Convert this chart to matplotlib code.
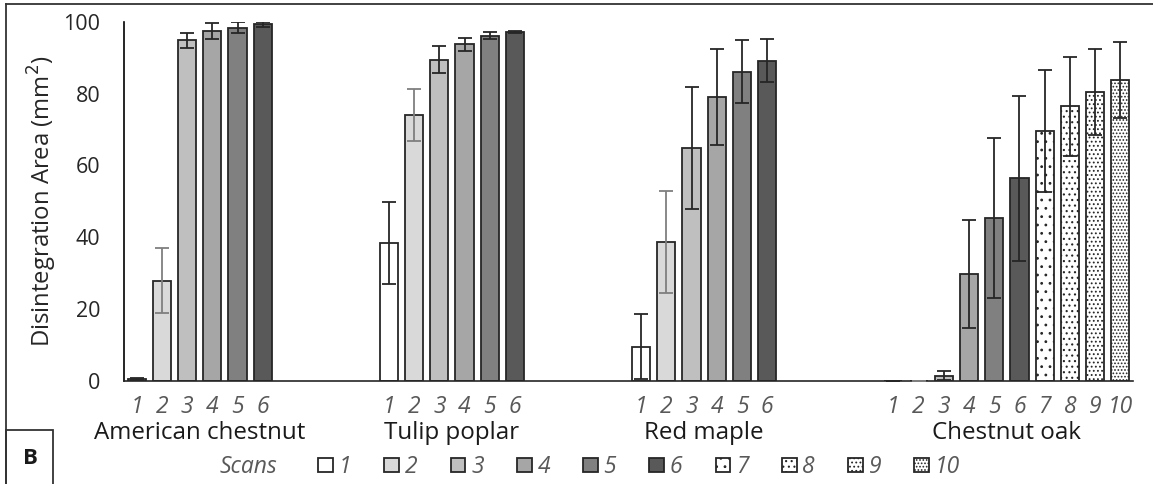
import numpy as np
import matplotlib
matplotlib.use("Agg")
import matplotlib.pyplot as plt
from matplotlib.patches import Rectangle
from matplotlib.lines import Line2D
from matplotlib.font_manager import FontProperties

plt.rcParams['font.family'] = ['Open Sans', 'DejaVu Sans']
plt.rcParams['hatch.linewidth'] = 0.8

# ---- data -------------------------------------------------------------
species = ["American chestnut", "Tulip poplar", "Red maple", "Chestnut oak"]
scans = ["1", "2", "3", "4", "5", "6", "7", "8", "9", "10"]

# mean disintegration area (mm^2) per scan; None = not scanned
american_chestnut = [0.6, 27.9, 94.8, 97.4, 98.3, 99.3, None, None, None, None]
tulip_poplar      = [38.3, 74.0, 89.4, 93.7, 96.1, 97.2, None, None, None, None]
red_maple         = [9.6, 38.7, 64.8, 79.0, 86.1, 89.2, None, None, None, None]
chestnut_oak      = [0.0, 0.1, 1.5, 29.8, 45.4, 56.4, 69.6, 76.5, 80.5, 83.7]

american_chestnut_err = [0.3, 9.1, 2.0, 2.3, 1.5, 0.7, None, None, None, None]
tulip_poplar_err      = [11.4, 7.3, 3.8, 1.9, 0.9, 0.3, None, None, None, None]
red_maple_err         = [9.0, 14.2, 17.0, 13.4, 8.7, 5.9, None, None, None, None]
chestnut_oak_err      = [0.0, 0.0, 1.3, 15.0, 22.2, 22.9, 16.9, 13.8, 11.9, 10.6]

means = [american_chestnut, tulip_poplar, red_maple, chestnut_oak]
errs = [american_chestnut_err, tulip_poplar_err, red_maple_err, chestnut_oak_err]

yticks = [0, 20, 40, 60, 80, 100]

# ---- styles -------------------------------------------------------------
fills = ["#ffffff", "#d9d9d9", "#bfbfbf", "#a6a6a6", "#808080", "#595959",
         "#ffffff", "#ffffff", "#ffffff", "#ffffff"]
hatches = [None, None, None, None, None, None, "..", "...", "....", "....."]
err_colors = ["#262626", "#7f7f7f", "#262626", "#262626", "#262626", "#262626",
              "#262626", "#262626", "#262626", "#262626"]
tick_gray = "#595959"

W, H = 1153, 484
fig = plt.figure(figsize=(W / 100, H / 100), dpi=100)
ax = fig.add_axes([124 / W, 1 - 381 / H, (1133 - 124) / W, (381 - 21.7) / H])

n_series = len(scans)
bar_w = 0.72
handles = []
tick_pos, tick_lab = [], []
cat_centers = []
for s in range(n_series):
    xs, ys, es = [], [], []
    for c in range(len(species)):
        v = means[c][s]
        if v is None:
            continue
        xs.append(c * n_series + s)
        ys.append(v)
        es.append(errs[c][s])
    bc = ax.bar(xs, ys, width=bar_w, color=fills[s], edgecolor="#262626",
                linewidth=1.3, hatch=hatches[s], zorder=2, label=scans[s])
    handles.append(bc)
    ax.errorbar(xs, ys, yerr=es, fmt="none", ecolor=err_colors[s],
                elinewidth=1.3, capsize=5, capthick=1.3, zorder=3)

for c in range(len(species)):
    present = [c * n_series + s for s in range(n_series) if means[c][s] is not None]
    for s in range(n_series):
        if means[c][s] is not None:
            tick_pos.append(c * n_series + s)
            tick_lab.append(scans[s])
    cat_centers.append((present[0] + present[-1]) / 2)

ax.set_xlim(-0.5, len(species) * n_series - 0.5)
ax.set_ylim(0, 100)
ax.set_yticks(yticks)
ax.set_yticklabels([str(t) for t in yticks])
ax.set_xticks(tick_pos)
ax.set_xticklabels(tick_lab, fontstyle="italic", color=tick_gray)
ax.tick_params(axis="y", length=0, pad=17, labelsize=15.5, labelcolor="#262626")
ax.tick_params(axis="x", length=0, pad=10, labelsize=16.5)

for side in ["top", "right"]:
    ax.spines[side].set_visible(False)
ax.spines["left"].set_linewidth(1.2)
ax.spines["left"].set_color("#000000")
ax.spines["bottom"].set_linewidth(1.2)
ax.spines["bottom"].set_color("#262626")

ax.set_ylabel("Disintegration Area (mm$^2$)", fontsize=17.2, color="#262626")
ax.yaxis.set_label_coords(-0.064, 0.5)

trans = ax.get_xaxis_transform()
for c, name in enumerate(species):
    ax.text(cat_centers[c], -0.145, name, transform=trans, ha="center",
            va="center", fontsize=17.4, color="#1a1a1a")

# legend row
fig.text(248 / W, 1 - 467 / H, "Scans", ha="center", va="center",
         fontsize=16.5, fontstyle="italic", color=tick_gray)
leg = fig.legend(handles=handles, labels=scans, loc="center left",
                 bbox_to_anchor=(318 / W, 1 - 467 / H), ncol=10, frameon=False,
                 prop=FontProperties(family="Open Sans", style="italic", size=16.5),
                 labelcolor=tick_gray, handlelength=0.65, handleheight=0.6,
                 handletextpad=0.25, columnspacing=1.44, borderpad=0,
                 borderaxespad=0)

# panel frame and letter box
frame_kw = dict(transform=fig.transFigure, color="#333333", linewidth=1.3)
fig.add_artist(Line2D([6 / W, 1], [1 - 4 / H, 1 - 4 / H], **frame_kw))
fig.add_artist(Line2D([6 / W, 6 / W], [1 - 4 / H, 0], **frame_kw))
fig.add_artist(Rectangle((6 / W, -0.01), 47 / W, (484 - 430) / H + 0.01,
                         transform=fig.transFigure, fill=False,
                         edgecolor="#333333", linewidth=1.3))
fig.text(30 / W, 1 - 459 / H, "B", ha="center", va="center", fontsize=16,
         fontweight="bold", color="#1a1a1a")

fig.savefig("out.png", dpi=100)
